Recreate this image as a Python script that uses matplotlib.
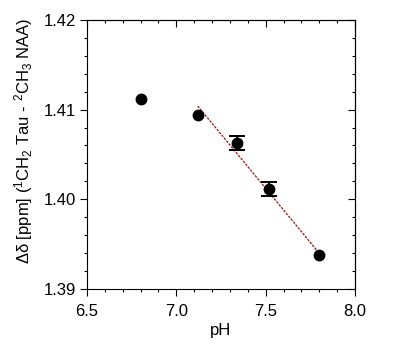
"""Delta-delta chemical shift (Tau CH2 - NAA CH3) vs pH, with linear fit."""
import matplotlib
matplotlib.use("Agg")
import matplotlib.pyplot as plt
from matplotlib.ticker import MultipleLocator

plt.rcParams["font.family"] = ["Liberation Sans", "DejaVu Sans"]
plt.rcParams["mathtext.fontset"] = "custom"
plt.rcParams["mathtext.rm"] = "Liberation Sans"
plt.rcParams["mathtext.it"] = "Liberation Sans"
plt.rcParams["mathtext.default"] = "regular"

# measured points
ph = [6.80, 7.12, 7.338, 7.52, 7.80]
delta = [1.4112, 1.4094, 1.40625, 1.4011, 1.3938]
err = [0.0, 0.0, 0.00078, 0.00078, 0.0]

# fitted line end points
fit_ph = [7.12, 7.795]
fit_delta = [1.4104, 1.3941]

x_ticks = [6.5, 7.0, 7.5, 8.0]
y_ticks = [1.39, 1.40, 1.41, 1.42]

FS = 12

fig = plt.figure(figsize=(4.0, 3.49), dpi=100)
ax = fig.add_axes([0.2175, 0.172, 0.67, 0.771])

ax.plot(fit_ph, fit_delta, color="#a01010", lw=0.9, ls=(0, (2, 1)), zorder=2)
ax.plot(ph, delta, "o", color="black", ms=7.5, zorder=3)
# error bars only where an error was reported
eb = [(x, y, e) for x, y, e in zip(ph, delta, err) if e > 0]
ax.errorbar([p[0] for p in eb], [p[1] for p in eb], yerr=[p[2] for p in eb],
            fmt="none", ecolor="black", capsize=5.5, elinewidth=1.4,
            capthick=1.4, zorder=3)

ax.set_xlim(6.5, 8.0)
ax.set_ylim(1.39, 1.42)
ax.set_xticks(x_ticks)
ax.set_xticklabels([f"{v:.1f}" for v in x_ticks])
ax.set_yticks(y_ticks)
ax.set_yticklabels([f"{v:.2f}" for v in y_ticks])
ax.xaxis.set_minor_locator(MultipleLocator(0.1))
ax.yaxis.set_minor_locator(MultipleLocator(0.002))
for s in ax.spines.values():
    s.set_linewidth(0.8)

# outward ticks on left/bottom
ax.tick_params(which="both", direction="out", width=0.8, labelsize=FS, pad=3)
ax.tick_params(axis="x", which="major", pad=6)
ax.tick_params(which="major", length=5)
ax.tick_params(which="minor", length=2.5)

# inward ticks on top/right (no labels)
tx = ax.secondary_xaxis("top")
tx.set_xticks(x_ticks, labels=[])
tx.xaxis.set_minor_locator(MultipleLocator(0.1))
ty = ax.secondary_yaxis("right")
ty.set_yticks(y_ticks, labels=[])
ty.yaxis.set_minor_locator(MultipleLocator(0.002))
for sec in (tx, ty):
    sec.tick_params(which="both", direction="in", width=0.8)
    sec.tick_params(which="major", length=5)
    sec.tick_params(which="minor", length=2.5)

ax.set_xlabel("pH", fontsize=FS, labelpad=3)
fig.text(24 / 400, 1 - 141 / 349,
         r"$\Delta\delta$ [ppm] ($^1$CH$_2$ Tau - $^2$CH$_3$ NAA)",
         rotation=90, ha="center", va="center", fontsize=FS)

fig.savefig("out.png", dpi=100)
